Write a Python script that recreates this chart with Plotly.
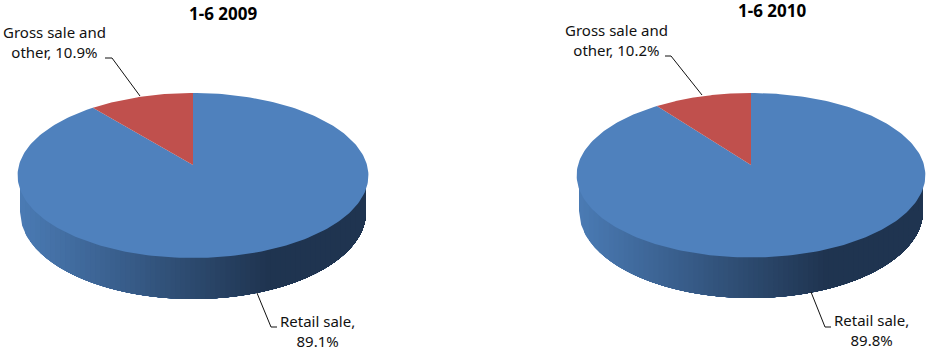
import numpy as np
import plotly.graph_objects as go

# Sales structure by period, percent
periods = ["1-6 2009", "1-6 2010"]
retail_share = [89.1, 89.8]
gross_share = [10.9, 10.2]

BLUE = "#4F81BD"
RED = "#C0504D"
SIDE_LIGHT = (74, 122, 179)
SIDE_DARK = (31, 52, 80)
FONT = "Noto Sans, Tahoma, sans-serif"

# Drawing geometry of each tilted disc, in page pixels
discs = [
    dict(cx=193, top=93, apex=165, bottom=258, a=174,
         side_cy=212, side_rx=173, side_ry=87, title_x=223, title_y=13.5,
         gross_xy=(54, 42), retail_xy=(317, 331),
         gross_leader=([105, 112, 140], [58, 58, 96]),
         retail_leader=([257, 271, 277], [293, 327, 327])),
    dict(cx=751, top=93, apex=165, bottom=257.5, a=173,
         side_cy=211, side_rx=172, side_ry=87, title_x=772, title_y=10.5,
         gross_xy=(616, 40), retail_xy=(871, 330),
         gross_leader=([665, 671, 702], [56, 56, 95]),
         retail_leader=([811, 825, 831], [292, 327, 327])),
]


def rim_point(disc, theta):
    """Perspective projection of a rim point; theta runs clockwise from the back."""
    back = disc["apex"] - disc["top"]
    front = disc["bottom"] - disc["apex"]
    k = (front - back) / (front + back)
    b = back * (1 + k)
    denom = 1 + k * np.cos(theta)
    return (disc["cx"] + disc["a"] * np.sin(theta) / denom,
            disc["apex"] - b * np.cos(theta) / denom)


def slice_polygon(disc, start_pct, end_pct):
    theta = np.radians(np.linspace(start_pct, end_pct, 240) * 3.6)
    x, y = rim_point(disc, theta)
    return [disc["cx"], *x, disc["cx"]], [disc["apex"], *y, disc["apex"]]


def add_polygon(fig, x, y, color):
    fig.add_trace(go.Scatter(x=x, y=y, mode="lines", fill="toself", fillcolor=color,
                             line=dict(width=0, color=color), hoverinfo="skip",
                             showlegend=False))


def add_side_wall(fig, disc, bands=70):
    # Painted left to right, each band reaching the far edge so no seams appear
    left = disc["cx"] - disc["side_rx"]
    right = disc["cx"] + disc["side_rx"]
    for i in range(bands):
        t = i / (bands - 1)
        mix = min(t / 0.71, 1.0)
        rgb = [round(l + (d - l) * mix) for l, d in zip(SIDE_LIGHT, SIDE_DARK)]
        x0 = left + (right - left) * t
        xs = np.linspace(x0, right, 160)
        ys = disc["side_cy"] + disc["side_ry"] * np.sqrt(
            np.clip(1 - ((xs - disc["cx"]) / disc["side_rx"]) ** 2, 0, 1))
        wall_top = (disc["top"] + disc["bottom"]) / 2
        add_polygon(fig, [x0, *xs, right, x0], [wall_top, *ys, wall_top, wall_top],
                    "rgb({},{},{})".format(*rgb))


fig = go.Figure()

for disc, period, retail, gross in zip(discs, periods, retail_share, gross_share):
    add_side_wall(fig, disc)

    # Slices start at twelve o'clock and run clockwise: retail first, then gross
    add_polygon(fig, *slice_polygon(disc, 0, retail), BLUE)
    add_polygon(fig, *slice_polygon(disc, retail, retail + gross), RED)

    for xs, ys in (disc["gross_leader"], disc["retail_leader"]):
        fig.add_trace(go.Scatter(x=xs, y=ys, mode="lines", hoverinfo="skip",
                                 showlegend=False,
                                 line=dict(color="#111111", width=1)))

    fig.add_annotation(x=disc["title_x"], y=disc["title_y"], text=f"<b>{period}</b>",
                       showarrow=False, font=dict(family=FONT, size=17, color="#000000"))
    fig.add_annotation(x=disc["gross_xy"][0], y=disc["gross_xy"][1],
                       text=f"Gross sale and<br>other, {gross}%", showarrow=False,
                       font=dict(family=FONT, size=15, color="#111111"))
    fig.add_annotation(x=disc["retail_xy"][0], y=disc["retail_xy"][1],
                       text=f"Retail sale,<br>{retail}%", showarrow=False,
                       font=dict(family=FONT, size=15, color="#111111"))

fig.update_layout(
    width=926, height=349, margin=dict(l=0, r=0, t=0, b=0),
    paper_bgcolor="white", plot_bgcolor="white", showlegend=False,
    xaxis=dict(range=[0, 926], visible=False, fixedrange=True),
    yaxis=dict(range=[349, 0], visible=False, fixedrange=True),
)

fig.write_html("out.html", config=dict(displayModeBar=False))
